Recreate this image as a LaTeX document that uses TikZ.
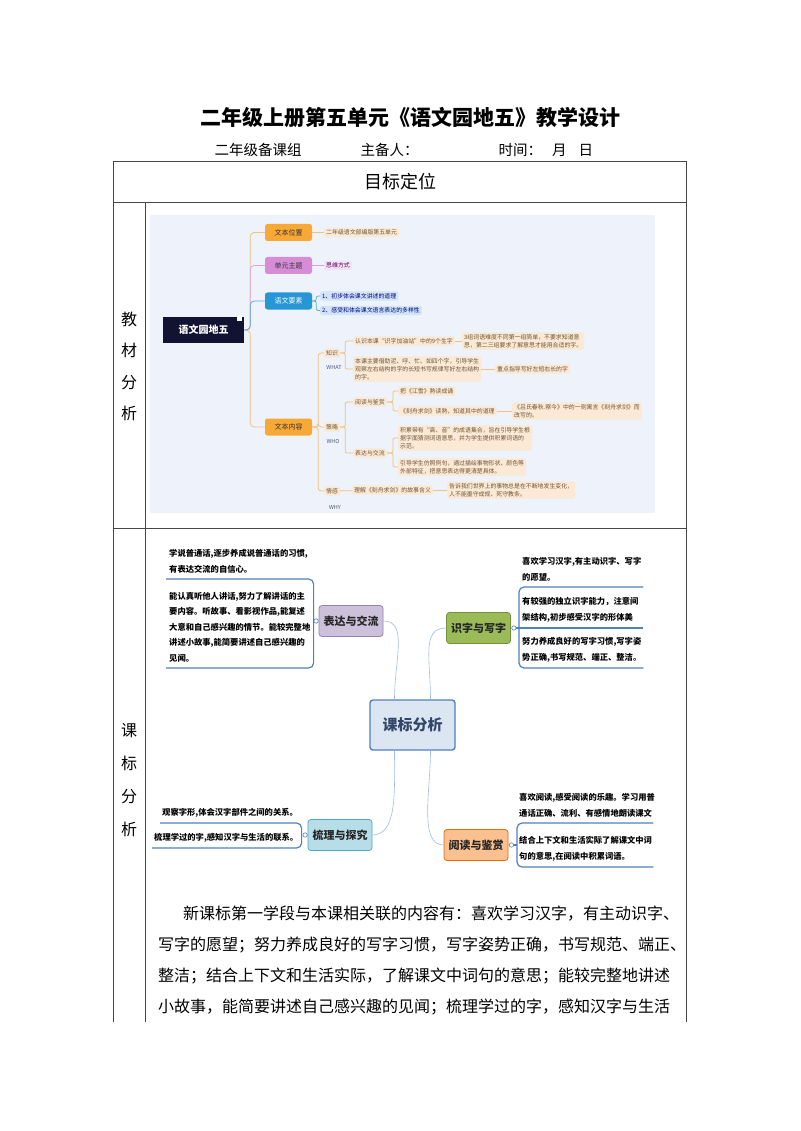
\documentclass[tikz,border=0pt]{standalone}
\usepackage{fontspec}
\setmainfont{Noto Sans CJK SC}
\usetikzlibrary{positioning,calc}

\definecolor{tablegray}{RGB}{70,70,70}
\definecolor{mapbg}{RGB}{237,242,251}
\definecolor{rootnavy}{RGB}{18,18,50}
\definecolor{topicorange}{RGB}{248,168,52}
\definecolor{topicpurple}{RGB}{214,140,214}
\definecolor{topicblue}{RGB}{38,150,214}
\definecolor{lineorange}{RGB}{244,192,122}
\definecolor{linepurple}{RGB}{222,160,222}
\definecolor{lineblue}{RGB}{90,170,225}
\definecolor{leafpeach}{RGB}{250,233,212}
\definecolor{leafpurple}{RGB}{242,226,246}
\definecolor{leafblue}{RGB}{208,229,246}
\definecolor{leafbrown}{RGB}{112,84,54}
\definecolor{whatgray}{RGB}{80,90,120}
\definecolor{ctrfill}{RGB}{220,230,242}
\definecolor{ctrdraw}{RGB}{79,129,189}
\definecolor{ctrtext}{RGB}{50,70,105}
\definecolor{bdfill}{RGB}{204,192,218}
\definecolor{bddraw}{RGB}{150,130,180}
\definecolor{szfill}{RGB}{155,187,89}
\definecolor{szdraw}{RGB}{118,146,60}
\definecolor{slfill}{RGB}{183,221,232}
\definecolor{sldraw}{RGB}{75,172,198}
\definecolor{ydfill}{RGB}{250,192,144}
\definecolor{yddraw}{RGB}{228,108,10}
\definecolor{kblue}{RGB}{79,129,189}
\definecolor{klight}{RGB}{160,190,225}

\begin{document}
\begin{tikzpicture}[
  x=1pt, y=-1pt,
  tline/.style={draw=tablegray, line width=0.9pt},
  subhead/.style={anchor=west, font=\fontsize{14.5}{14.5}\selectfont},
  rowhead/.style={align=center, inner sep=0pt},
  mroot/.style={fill=rootnavy, text=white, minimum width=81pt, minimum height=26pt,
                font=\fontsize{10}{10}\selectfont\bfseries, inner sep=0pt},
  mtopic/.style={rounded corners=2.5pt, minimum width=47pt, minimum height=17pt,
                 inner sep=0pt, font=\fontsize{7}{7}\selectfont, text=black!80},
  mleaf/.style={anchor=west, rounded corners=1.5pt, align=left, inner xsep=2pt,
                inner ysep=1.8pt, font=\fontsize{5.9}{8}\selectfont},
  pleaf/.style={mleaf, fill=leafpeach, text=leafbrown},
  vleaf/.style={mleaf, fill=leafpurple, text=violet!70!black},
  bleaf/.style={mleaf, fill=leafblue, text=blue!50!black},
  mtag/.style={font=\fontsize{5.5}{5.5}\selectfont, text=whatgray, inner sep=0pt},
  oline/.style={draw=lineorange, line width=0.8pt},
  pline/.style={draw=linepurple, line width=0.8pt},
  bline/.style={draw=lineblue, line width=0.8pt},
  ktopic/.style={rounded corners=3pt, minimum width=64pt, minimum height=31pt,
                 inner sep=0pt, line width=0.8pt, text=black!85,
                 font=\fontsize{11}{11}\selectfont\bfseries},
  kleaf/.style={anchor=south west, align=left, inner xsep=3pt, inner ysep=5.5pt,
                font=\fontsize{8.3}{15.5}\selectfont\bfseries},
  kline/.style={draw=klight, line width=0.6pt},
  uline/.style={draw=kblue, line width=1.2pt},
  para/.style={anchor=base west, inner sep=0pt, font=\fontsize{16}{16}\selectfont}
]
% page
\fill[white] (0,0) rectangle (800,1131);
\useasboundingbox (0,0) rectangle (800,1131);

% heading
\node[font=\fontsize{21}{21}\selectfont\bfseries] (title) at (410,118)
  {二年级上册第五单元《语文园地五》教学设计};
\node[subhead] (grp) at (211,150) {二年级备课组};
\node[subhead] (zbr) at (357,150) {主备人：};
\node[subhead] (sj) at (495,150) {时间：\hspace{10pt}月\hspace{12pt}日};

% table
\draw[tline] (113,1022) -- (113,161) -- (686,161) -- (686,1022);
\draw[tline] (113,202) -- (686,202);
\draw[tline] (113,528) -- (686,528);
\draw[tline] (145,202) -- (145,1022);
\node[font=\fontsize{18}{18}\selectfont] (mbdw) at (400,182) {目标定位};
\node[rowhead, font=\fontsize{16}{31.5}\selectfont] (jcfx) at (129,366.5) {教\\材\\分\\析};
\node[rowhead, font=\fontsize{16}{33}\selectfont] (kbfx) at (129,780) {课\\标\\分\\析};

% ---- map 1: textbook analysis
\fill[mapbg] (150,215) rectangle (655,513);
\node[mroot] (root) at (203.5,330) {语文园地五};
\fill[white] ([xshift=-7pt,yshift=2pt]root.north east) rectangle ([xshift=-2pt,yshift=-4pt]root.north east);

\node[mtopic, fill=topicorange] (wbwz) at (288.5,232.5) {文本位置};
\node[mtopic, fill=topicpurple] (dyzt) at (288.5,265.5) {单元主题};
\node[mtopic, fill=topicblue, text=white] (ywys) at (288.5,301) {语文要素};
\node[mtopic, fill=topicorange] (wbnr) at (288.5,427) {文本内容};
\draw[oline, rounded corners=4pt] (root.east) -- ([xshift=6pt]root.east) |- (wbwz.west);
\draw[oline, rounded corners=4pt] (root.east) -- ([xshift=6pt]root.east) |- (wbnr.west);
\draw[pline, rounded corners=4pt] (root.east) -- ([xshift=6pt]root.east) |- (dyzt.west);
\draw[bline, rounded corners=4pt] (root.east) -- ([xshift=6pt]root.east) |- (ywys.west);

\node[pleaf] (wbwz1) at (324,232.5) {二年级语文部编版第五单元};
\node[vleaf] (dyzt1) at (324,265.5) {思维方式};
\node[bleaf] (ywys1) at (320,296) {1、初步体会课文讲述的道理};
\node[bleaf] (ywys2) at (320,310.5) {2、感受和体会课文语言表达的多样性};
\draw[oline] (wbwz) -- (wbwz1);
\draw[pline] (dyzt) -- (dyzt1);
\draw[bline, rounded corners=2pt] (ywys.east) -- ([xshift=4pt]ywys.east) |- (ywys1.west);
\draw[bline, rounded corners=2pt] (ywys.east) -- ([xshift=4pt]ywys.east) |- (ywys2.west);

% text content
\node[pleaf] (zs) at (324,353) {知识};
\node[pleaf] (cl) at (324,427) {策略};
\node[pleaf] (qg) at (324,491) {情感};
\node[mtag] (zsw) at (334,367) {WHAT};
\node[mtag] (clw) at (333,441) {WHO};
\node[mtag] (qgw) at (335,507) {WHY};
\foreach \n in {zs,cl,qg}
  \draw[oline, rounded corners=3pt] (wbnr.east) -- ([xshift=6pt]wbnr.east) |- (\n.west);

\node[pleaf] (zs1) at (353,341) {认识本课“识字加油站”中的9个生字};
\node[pleaf] (zs2) at (353,369) {本课主要借助泥、呼、忙、如四个字，引导学生\\观察左右结构的字的长短书写规律写好左右结构\\的字。};
\node[pleaf] (zs1a) at (462,341) {3组词语难度不同第一组简单，不要求知道意\\思，第二三组要求了解意思才能用合适的字。};
\node[pleaf] (zs2a) at (495,369) {重点指导写好左短右长的字};
\draw[oline, rounded corners=2pt] (zs.east) -- ([xshift=5pt]zs.east) |- (zs1.west);
\draw[oline, rounded corners=2pt] (zs.east) -- ([xshift=5pt]zs.east) |- (zs2.west);
\draw[oline] (zs1) -- (zs1a);
\draw[oline] (zs2) -- (zs2a);

\node[pleaf] (ydj) at (353,402) {阅读与鉴赏};
\node[pleaf] (bdj) at (353,453) {表达与交流};
\draw[oline, rounded corners=2pt] (cl.east) -- ([xshift=5pt]cl.east) |- (ydj.west);
\draw[oline, rounded corners=2pt] (cl.east) -- ([xshift=5pt]cl.east) |- (bdj.west);
\node[pleaf] (ydj1) at (398,391) {把《江雪》熟读成诵};
\node[pleaf] (ydj2) at (398,411) {《刻舟求剑》读熟，知道其中的道理};
\node[pleaf] (ydj2a) at (512,411) {《吕氏春秋.察今》中的一则寓言《刻舟求剑》而\\改写的。};
\draw[oline, rounded corners=2pt] (ydj.east) -- ([xshift=6pt]ydj.east) |- (ydj1.west);
\draw[oline, rounded corners=2pt] (ydj.east) -- ([xshift=6pt]ydj.east) |- (ydj2.west);
\draw[oline] (ydj2) -- (ydj2a);
\node[pleaf] (bdj1) at (398,438) {积累带有“高、音”的成语集合，旨在引导学生根\\据字面猜测词语意思，并为学生提供积累词语的\\示范。};
\node[pleaf] (bdj2) at (398,467) {引导学生仿照例句，通过描绘事物形状、颜色等\\外部特征，把意思表达得更清楚具体。};
\draw[oline, rounded corners=2pt] (bdj.east) -- ([xshift=6pt]bdj.east) |- (bdj1.west);
\draw[oline, rounded corners=2pt] (bdj.east) -- ([xshift=6pt]bdj.east) |- (bdj2.west);

\node[pleaf] (qg1) at (352,490) {理解《刻舟求剑》的故事含义};
\node[pleaf] (qg1a) at (447,490) {告诉我们世界上的事物总是在不断地发生变化，\\人不能墨守成规、死守教条。};
\draw[oline] (qg) -- (qg1);
\draw[oline] (qg1) -- (qg1a);

% ---- map 2: curriculum standard analysis
\node[ktopic, fill=ctrfill, draw=ctrdraw, line width=1.4pt, minimum width=85pt,
      minimum height=50pt, text=ctrtext, font=\fontsize{15}{15}\selectfont\bfseries]
      (ctr) at (412.5,725) {课标分析};
\node[ktopic, fill=bdfill, draw=bddraw] (bd) at (351,621) {表达与交流};
\node[ktopic, fill=szfill, draw=szdraw] (sz) at (478.5,628) {识字与写字};
\node[ktopic, fill=slfill, draw=sldraw] (sl) at (340,835) {梳理与探究};
\node[ktopic, fill=ydfill, draw=yddraw] (yd) at (476,845) {阅读与鉴赏};
\draw[kline] (ctr.125) .. controls +(0,-40) and +(25,0) .. (bd.east);
\draw[kline] (ctr.55) .. controls +(0,-40) and +(-25,0) .. (sz.west);
\draw[kline] (ctr.235) .. controls +(0,40) and +(25,0) .. (sl.east);
\draw[kline] (ctr.305) .. controls +(0,40) and +(-25,0) .. (yd.west);

% expression
\node[kleaf, text width=138pt] (bdA) at (166,579) {学说普通话,逐步养成说普通话的习惯,\\有表达交流的自信心。};
\node[kleaf, text width=138pt] (bdB) at (166,668) {能认真听他人讲话,努力了解讲话的主\\要内容。听故事、看影视作品,能复述\\大意和自己感兴趣的情节。能较完整地\\讲述小故事,能简要讲述自己感兴趣的\\见闻。};
\coordinate (bdK) at ([xshift=-5pt]bd.west);
\draw[uline, rounded corners=5pt] (bdA.south west) -- (bdA.south west -| bdK) -- (bdB.south west -| bdK) -- (bdB.south west);
\draw[uline, fill=white, line width=0.6pt] ([xshift=-2.5pt]bd.west) circle (2.2);

% literacy
\node[kleaf, text width=118pt] (szA) at (519,587) {喜欢学习汉字,有主动识字、写字\\的愿望。};
\node[kleaf, text width=118pt] (szB) at (519,628) {有较强的独立识字能力，注意间\\架结构,初步感受汉字的形体美};
\node[kleaf, text width=118pt] (szC) at (519,668) {努力养成良好的写字习惯,写字姿\\势正确,书写规范、端正、整洁。};
\draw[uline, rounded corners=5pt] (szA.south east) -- (szA.south west) -- (szC.south west) -- (szC.south east);
\draw[uline] ([xshift=3pt]sz.east) -- (szB.south east);
\draw[uline, fill=white, line width=0.6pt] ([xshift=3pt]sz.east) circle (2.2);

% sorting
\node[kleaf, text width=136pt, inner xsep=2pt] (slA) at (160,823) {观察字形,体会汉字部件之间的关系。};
\node[kleaf, text width=144pt, inner xsep=2pt] (slB) at (152,848) {梳理学过的字,感知汉字与生活的联系。};
\coordinate (slK) at ([xshift=-6pt]sl.west);
\draw[uline, rounded corners=5pt] (slA.south west) -- (slA.south west -| slK) -- (slB.south west -| slK) -- (slB.south west);
\draw[uline, fill=white, line width=0.6pt] ([xshift=-2.5pt]sl.west) circle (2.2);

% reading
\node[kleaf, text width=132pt, inner xsep=2pt] (ydA) at (517,823) {喜欢阅读,感受阅读的乐趣。学习用普\\通话正确、流利、有感情地朗读课文};
\node[kleaf, text width=132pt, inner xsep=2pt] (ydB) at (517,867) {结合上下文和生活实际了解课文中词\\句的意思,在阅读中积累词语。};
\draw[uline, rounded corners=5pt] (ydA.south east) -- (ydA.south west) -- (ydB.south west) -- (ydB.south east);
\draw[uline] ([xshift=3pt]yd.east) -- (ydA.south west |- yd.east);
\draw[uline, fill=white, line width=0.6pt] ([xshift=3pt]yd.east) circle (2.2);

% paragraph
\node[para] (p1) at (183,919) {新课标第一学段与本课相关联的内容有：喜欢学习汉字，有主动识字、};
\node[para] (p2) at (158,950) {写字的愿望；努力养成良好的写字习惯，写字姿势正确，书写规范、端正、};
\node[para] (p3) at (158,981) {整洁；结合上下文和生活实际，了解课文中词句的意思；能较完整地讲述};
\node[para] (p4) at (158,1012) {小故事，能简要讲述自己感兴趣的见闻；梳理学过的字，感知汉字与生活};
\end{tikzpicture}
\end{document}
